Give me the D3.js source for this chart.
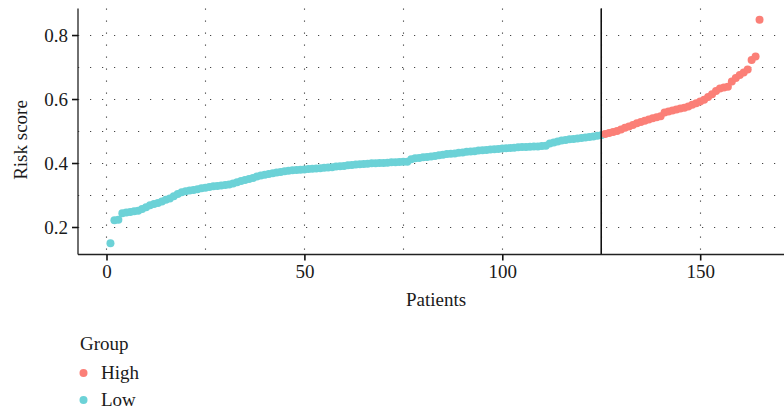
<!DOCTYPE html>
<html>
<head>
<meta charset="utf-8">
<script src="https://cdn.jsdelivr.net/npm/d3@7"></script>
<style>
  html, body { margin: 0; padding: 0; background: #fff; }
  svg { display: block; }
  text { font-family: "Liberation Serif", "Times New Roman", serif; fill: #1a1a1a; }
</style>
</head>
<body>
<svg id="chart" width="784" height="415"></svg>
<script>
// Sorted risk scores per patient, split by risk group
const lowScores = [
  0.149, 0.221, 0.223, 0.243, 0.245, 0.247, 0.249, 0.251, 0.256, 0.262,
  0.268, 0.272, 0.275, 0.280, 0.285, 0.289, 0.296, 0.303, 0.309, 0.312,
  0.314, 0.316, 0.318, 0.321, 0.323, 0.325, 0.327, 0.328, 0.330, 0.331,
  0.333, 0.336, 0.340, 0.344, 0.347, 0.350, 0.353, 0.358, 0.361, 0.363,
  0.366, 0.368, 0.370, 0.372, 0.374, 0.376, 0.377, 0.378, 0.379, 0.380,
  0.381, 0.382, 0.383, 0.384, 0.385, 0.386, 0.387, 0.389, 0.390, 0.391,
  0.393, 0.394, 0.395, 0.396, 0.397, 0.398, 0.399, 0.399, 0.400, 0.400,
  0.401, 0.402, 0.402, 0.403, 0.404, 0.404, 0.412, 0.415, 0.416, 0.418,
  0.419, 0.420, 0.422, 0.424, 0.426, 0.428, 0.429, 0.430, 0.432, 0.433,
  0.435, 0.436, 0.437, 0.439, 0.440, 0.441, 0.442, 0.443, 0.444, 0.445,
  0.446, 0.447, 0.448, 0.449, 0.450, 0.450, 0.451, 0.452, 0.452, 0.453,
  0.454, 0.461, 0.464, 0.467, 0.470, 0.472, 0.474, 0.475, 0.477, 0.478,
  0.480, 0.481, 0.483, 0.485, 0.487
];
const highScores = [
  0.491, 0.494, 0.497, 0.500, 0.505, 0.510, 0.514, 0.519, 0.524, 0.528,
  0.532, 0.536, 0.540, 0.543, 0.546, 0.558, 0.561, 0.564, 0.567, 0.570,
  0.573, 0.577, 0.582, 0.587, 0.592, 0.598, 0.606, 0.615, 0.625, 0.633,
  0.636, 0.638, 0.655, 0.666, 0.675, 0.683, 0.692, 0.722, 0.733, 0.848
];
const groups = ["High", "Low"];
const groupColors = ["#FB7F77", "#6CD2D7"];
const xTicks = [0, 50, 100, 150];
const yTicks = [0.2, 0.4, 0.6, 0.8];
const xGrid = [0, 25, 50, 75, 100, 125, 150, 175];
const yGrid = [0.2, 0.3, 0.4, 0.5, 0.6, 0.7, 0.8];
const cutoff = lowScores.length;

const points = lowScores.map((v, i) => ({ id: i + 1, score: v, group: "Low" }))
  .concat(highScores.map((v, i) => ({ id: lowScores.length + i + 1, score: v, group: "High" })));

const svg = d3.select("#chart");
const panel = { left: 78, right: 792, top: 8.5, bottom: 254.5 };

// ggplot-style 5% padding around the data range
const n = points.length;
const xPad = (n - 1) * 0.05;
const x = d3.scaleLinear().domain([1 - xPad, n + xPad]).range([panel.left, panel.right]);
const yExt = d3.extent(points, d => d.score);
const yPad = (yExt[1] - yExt[0]) * 0.05;
const y = d3.scaleLinear().domain([yExt[0] - yPad, yExt[1] + yPad]).range([panel.bottom, panel.top]);
const color = d3.scaleOrdinal().domain(groups).range(groupColors);

// dotted grid
const grid = svg.append("g").attr("stroke", "#444").attr("stroke-width", 1.1)
  .attr("stroke-dasharray", "1.2,10.8");
grid.selectAll("line.h").data(yGrid).join("line")
  .attr("x1", panel.left).attr("x2", panel.right)
  .attr("y1", d => Math.round(y(d)) + 0.5).attr("y2", d => Math.round(y(d)) + 0.5);
grid.selectAll("line.v").data(xGrid).join("line")
  .attr("x1", d => Math.round(x(d)) + 0.5).attr("x2", d => Math.round(x(d)) + 0.5)
  .attr("y1", panel.top).attr("y2", panel.bottom);

// patients
svg.append("g").selectAll("circle").data(points).join("circle")
  .attr("cx", d => x(d.id)).attr("cy", d => y(d.score)).attr("r", 4)
  .attr("fill", d => color(d.group));

// cutoff between groups
svg.append("line")
  .attr("x1", x(cutoff)).attr("x2", x(cutoff))
  .attr("y1", panel.top).attr("y2", panel.bottom)
  .attr("stroke", "#111").attr("stroke-width", 1.6);

// axes
const xAxis = svg.append("g").attr("transform", `translate(0,${panel.bottom})`)
  .call(d3.axisBottom(x).tickValues(xTicks).tickFormat(d3.format("d")).tickSize(6).tickPadding(4));
const yAxis = svg.append("g").attr("transform", `translate(${panel.left},0)`)
  .call(d3.axisLeft(y).tickValues(yTicks).tickFormat(d3.format(".1f")).tickSize(6).tickPadding(4));
[xAxis, yAxis].forEach(a => {
  a.select(".domain").attr("stroke", "#222").attr("stroke-width", 1.3);
  a.selectAll(".tick line").attr("stroke", "#111").attr("stroke-width", 1.6);
  a.selectAll(".tick text").attr("font-family", "Liberation Serif, serif")
    .attr("font-size", 19).attr("fill", "#1a1a1a");
});
yAxis.select(".domain").attr("d", `M0,${panel.top}V${panel.bottom}`);
xAxis.select(".domain").attr("d", `M${panel.left},0H${panel.right}`);

// axis titles
svg.append("text").attr("x", 436).attr("y", 306).attr("text-anchor", "middle")
  .attr("font-size", 19).text("Patients");
svg.append("text").attr("transform", "translate(27,140) rotate(-90)")
  .attr("text-anchor", "middle").attr("font-size", 19).text("Risk score");

// legend
const legend = svg.append("g");
legend.append("text").attr("x", 80).attr("y", 350).attr("font-size", 19).text("Group");
const items = legend.selectAll("g.item").data(groups).join("g")
  .attr("transform", (d, i) => `translate(0,${373 + i * 27})`);
items.append("circle").attr("cx", 83.5).attr("cy", 0).attr("r", 4).attr("fill", d => color(d));
items.append("text").attr("x", 101).attr("y", 5.5).attr("font-size", 19).text(d => d);
</script>
</body>
</html>
